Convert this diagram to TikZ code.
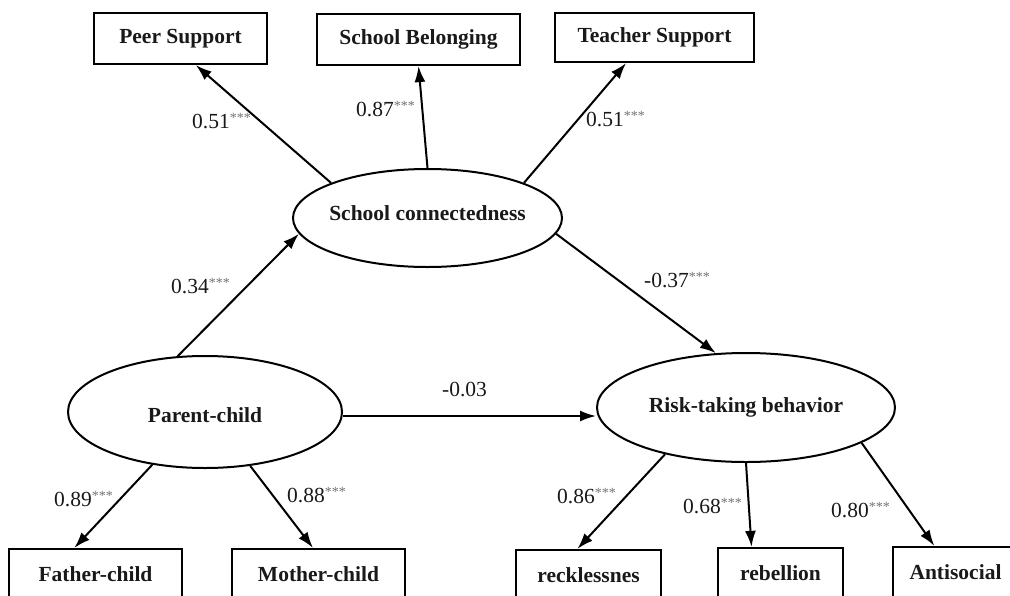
\documentclass[tikz,border=0pt]{standalone}
\usepackage{fontspec}
\setmainfont{Liberation Serif}
\usepackage{tikz}
\usetikzlibrary{arrows.meta}
\usetikzlibrary{shapes.geometric}
\newcommand{\bigfont}{\fontsize{21.5}{26}\selectfont}
\newcommand{\sig}[1]{#1\raisebox{6pt}{\fontsize{14}{14}\selectfont\color{black!55}***}}
\definecolor{ink}{rgb}{0.1, 0.1, 0.1}
\tikzset{obs/.style = {draw, rectangle, line width = 2.2pt, font = \bigfont\bfseries, text = ink}}
\tikzset{latent/.style = {draw, ellipse, line width = 2pt, inner sep = 0}}
\tikzset{latname/.style = {font = \bigfont\bfseries, text = ink}}
\tikzset{arr/.style = {-{Latex[length = 16pt, width = 11pt]}, line width = 2pt}}
\tikzset{coef/.style = {anchor = base west, inner sep = 0, text = ink}}

\begin{document}
\begin{tikzpicture}[x = 1pt, y = -1pt, font = \bigfont]
          \path [use as bounding box] (0, 0) rectangle (1010, 595);
          \clip (0, 0) rectangle (1010, 595);
          % latent variables
          \node [latent, minimum width = 269pt, minimum height = 98pt,
                 label = {[latname, yshift = 5pt]center:School connectedness}] (sc) at (427.5, 218) {};
          \node [latent, minimum width = 274pt, minimum height = 112pt,
                 label = {[latname, yshift = -3pt]center:Parent-child}] (parent) at (205, 412) {};
          \node [latent, minimum width = 298pt, minimum height = 109pt,
                 label = {[latname]center:Risk-taking behavior}] (risk) at (746, 407.5) {};
          % indicators
          \node [obs, minimum width = 173pt, minimum height = 51pt] (peer) at (180.5, 38.5) {Peer Support};
          \node [obs, minimum width = 203pt, minimum height = 51pt] (belong) at (418.5, 39.5) {School Belonging};
          \node [obs, minimum width = 199pt, minimum height = 49pt] (teacher) at (654.5, 37.5) {Teacher Support};
          \node [obs, minimum width = 173pt, minimum height = 50pt] (father) at (95.5, 574) {Father-child};
          \node [obs, minimum width = 173pt, minimum height = 50pt] (mother) at (318.5, 574) {Mother-child};
          \node [obs, minimum width = 145pt, minimum height = 50pt] (reck) at (588.5, 575) {recklessnes};
          \node [obs, minimum width = 125pt, minimum height = 50pt] (rebel) at (780.5, 573) {rebellion};
          \node [obs, minimum width = 125pt, minimum height = 50pt] (anti) at (955.5, 572) {Antisocial};
          % paths
          \draw [arr] (sc.160) -- (peer.-60);
          \draw [arr] (sc.north) -- (belong.south);
          \draw [arr] (sc.20) -- (teacher.222);
          \draw [arr] (sc.-7) -- (risk.119);
          \draw [arr] (parent.116) -- (sc.187);
          \draw [arr] ([yshift = -4pt]parent.east) -- ([yshift = -4pt]parent.east -| risk.west);
          \draw [arr] (parent.225) -- (father.129);
          \draw [arr] (parent.-50) -- (mother.102);
          \draw [arr] (risk.210) -- (reck.113);
          \draw [arr] (risk.south) -- (rebel.138);
          \draw [arr] (risk.-17) -- (anti.129);
          % coefficients
          \node [coef] (cpeer) at (192, 128) {\sig{0.51}};
          \node [coef] (cbelong) at (356, 116) {\sig{0.87}};
          \node [coef] (cteacher) at (586, 126) {\sig{0.51}};
          \node [coef] (cparent) at (171, 293) {\sig{0.34}};
          \node [coef] (crisk) at (644, 287) {\sig{-0.37}};
          \node [coef] (cdirect) at (442, 396) {-0.03};
          \node [coef] (cfather) at (54, 506) {\sig{0.89}};
          \node [coef] (cmother) at (287, 502) {\sig{0.88}};
          \node [coef] (creck) at (557, 503) {\sig{0.86}};
          \node [coef] (crebel) at (683, 513) {\sig{0.68}};
          \node [coef] (canti) at (831, 517) {\sig{0.80}};
        \end{tikzpicture}
\end{document}
